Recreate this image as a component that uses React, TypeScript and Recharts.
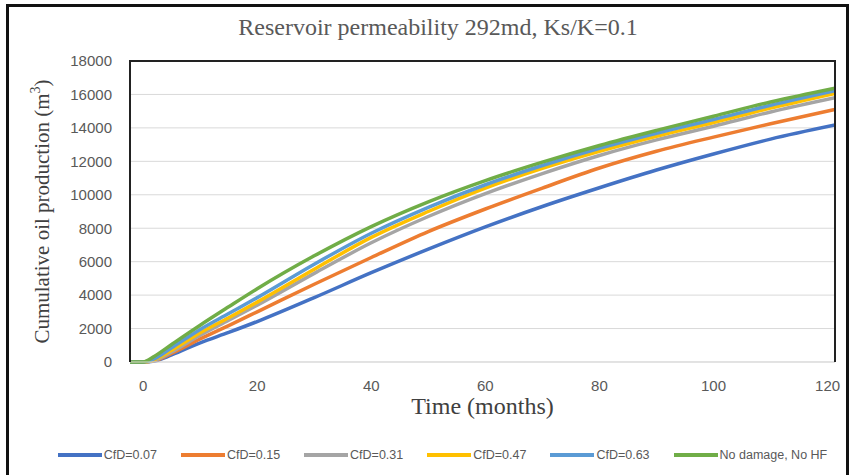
import React from 'react';
import {
  LineChart,
  Line,
  XAxis,
  YAxis,
  CartesianGrid,
  Label,
} from 'recharts';

// time axis (months)
const months = [-2.3, 0, 2, 5, 10, 15, 20, 30, 40, 50, 60, 70, 80, 90, 100, 110, 121.3];

// cumulative oil production (m3)
const cfd007 = [0, 0, 60, 420, 1150, 1770, 2420, 3850, 5340, 6750, 8080, 9300, 10420, 11480, 12440, 13330, 14170];
const cfd015 = [0, 0, 80, 520, 1380, 2180, 3000, 4650, 6250, 7800, 9150, 10400, 11600, 12600, 13450, 14250, 15100];
const cfd031 = [0, 0, 100, 600, 1600, 2500, 3400, 5300, 7130, 8700, 10070, 11270, 12350, 13280, 14100, 14950, 15800];
const cfd047 = [0, 0, 150, 700, 1750, 2650, 3580, 5550, 7450, 9000, 10400, 11580, 12600, 13500, 14320, 15180, 16060];
const cfd063 = [0, 0, 200, 850, 1950, 2900, 3850, 5850, 7700, 9250, 10600, 11750, 12780, 13680, 14500, 15350, 16220];
const noDamage = [0, 0, 350, 1050, 2200, 3300, 4380, 6350, 8100, 9580, 10850, 11950, 12950, 13850, 14700, 15550, 16380];

const xTicks = [0, 20, 40, 60, 80, 100, 120];
const yTicks = [0, 2000, 4000, 6000, 8000, 10000, 12000, 14000, 16000, 18000];

const series = [
  { key: 'cfd007', name: 'CfD=0.07', color: '#4472C4', values: cfd007 },
  { key: 'cfd015', name: 'CfD=0.15', color: '#ED7D31', values: cfd015 },
  { key: 'cfd031', name: 'CfD=0.31', color: '#A5A5A5', values: cfd031 },
  { key: 'cfd047', name: 'CfD=0.47', color: '#FFC000', values: cfd047 },
  { key: 'cfd063', name: 'CfD=0.63', color: '#5B9BD5', values: cfd063 },
  { key: 'noDamage', name: 'No damage, No HF', color: '#70AD47', values: noDamage },
];

const chartData = months.map((t, i) => {
  const row: Record<string, number> = { t };
  series.forEach((s) => {
    row[s.key] = s.values[i];
  });
  return row;
});

const serif = '"Liberation Serif", "Times New Roman", serif';
const sans = '"Liberation Sans", Arial, sans-serif';
const tickStyle = { fontSize: 15, fill: '#595959', fontFamily: sans };

// 범례: 선 + 텍스트
const LegendRow = () => (
  <div
    style={{
      position: 'absolute',
      left: 0,
      width: 885,
      top: 448,
      display: 'flex',
      justifyContent: 'center',
      alignItems: 'center',
      fontFamily: sans,
      fontSize: 12.5,
      color: '#595959',
    }}
  >
    {series.map((s, i) => (
      <div
        key={s.key}
        style={{ display: 'flex', alignItems: 'center', marginRight: i === series.length - 1 ? 0 : 24 }}
      >
        <span style={{ display: 'inline-block', width: 44, height: 4, background: s.color, marginRight: 2 }} />
        <span>{s.name}</span>
      </div>
    ))}
  </div>
);

// y축 제목 (m3 위첨자)
const YTitle = ({ viewBox }: { viewBox?: { x: number; y: number; width: number; height: number } }) => {
  if (!viewBox) return null;
  const cx = 42;
  const cy = viewBox.y + viewBox.height / 2;
  return (
    <text
      x={cx}
      y={cy}
      transform={`rotate(-90, ${cx}, ${cy})`}
      textAnchor="middle"
      dominantBaseline="central"
      fill="#404040"
      style={{ fontFamily: serif, fontSize: 21 }}
    >
      Cumulative oil production (m
      <tspan dy={-7} fontSize={14}>3</tspan>
      <tspan dy={7}>)</tspan>
    </text>
  );
};

export default function App() {
  return (
    <div style={{ position: 'absolute', left: 0, top: 0, width: 856, height: 475, background: '#fff', overflow: 'hidden' }}>
      {/* 외곽 테두리 */}
      <div
        style={{
          position: 'absolute',
          left: 6,
          top: 4,
          width: 843,
          height: 490,
          border: '3px solid #111',
          boxSizing: 'border-box',
        }}
      />
      <div
        style={{
          position: 'absolute',
          left: 0,
          width: 876,
          top: 14,
          textAlign: 'center',
          fontFamily: serif,
          fontSize: 24,
          color: '#595959',
        }}
      >
        Reservoir permeability 292md, Ks/K=0.1
      </div>
      <div style={{ position: 'absolute', left: 0, top: 0 }}>
        <LineChart
          width={856}
          height={475}
          data={chartData}
          margin={{ top: 61, right: 21, left: 70, bottom: 83 }}
        >
          <CartesianGrid vertical={false} stroke="#D9D9D9" />
          <XAxis
            dataKey="t"
            type="number"
            domain={[-2.3, 121.3]}
            ticks={xTicks}
            allowDataOverflow
            tick={tickStyle}
            axisLine={{ stroke: '#D9D9D9' }}
            tickLine={false}
            tickMargin={12}
            height={30}
          >
            <Label
              value="Time (months)"
              position="insideBottom"
              offset={-22}
              fill="#404040"
              style={{ fontFamily: serif, fontSize: 24 }}
            />
          </XAxis>
          <YAxis
            type="number"
            domain={[0, 18000]}
            ticks={yTicks}
            tick={tickStyle}
            axisLine={false}
            tickLine={false}
            tickMargin={12}
            width={60}
            label={<YTitle />}
          />
          {series.map((s) => (
            <Line
              key={s.key}
              dataKey={s.key}
              name={s.name}
              type="monotone"
              stroke={s.color}
              strokeWidth={3.5}
              dot={false}
              isAnimationActive={false}
            />
          ))}
        </LineChart>
      </div>
      {/* 플롯 영역 테두리 (위/좌/우) */}
      <div
        style={{
          position: 'absolute',
          left: 129,
          top: 60,
          width: 707,
          height: 302,
          borderTop: '2px solid #222',
          borderLeft: '2px solid #222',
          borderRight: '2px solid #222',
          boxSizing: 'border-box',
          pointerEvents: 'none',
        }}
      />
      <LegendRow />
    </div>
  );
}
